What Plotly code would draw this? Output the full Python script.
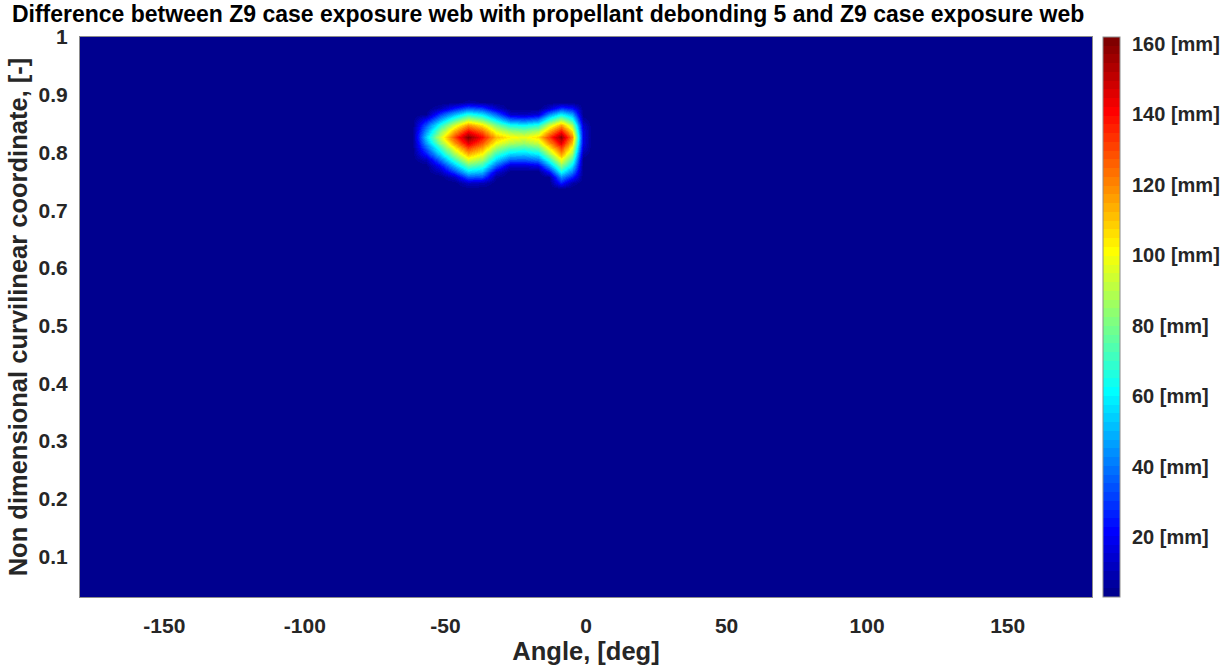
import plotly.graph_objects as go

# ---------------- data ----------------
TITLE = "Difference between Z9 case exposure web with propellant debonding 5 and Z9 case exposure web"
X_LABEL = "Angle, [deg]"
Y_LABEL = "Non dimensional curvilinear coordinate, [-]"

BACKGROUND_MM = 3.0          # value of the flat (dark blue) region
Z_MIN, Z_MAX = 3.0, 162.0     # colour limits of the colorbar

# blob columns [deg] and rows [-] where the debonding difference is non-zero
BLOB_ANGLE = [-57, -52, -47, -42, -37, -32, -27, -22, -17, -13, -9, -5, -1]
BLOB_COORD = [0.747, 0.757, 0.767, 0.777, 0.787, 0.797, 0.807, 0.817,
              0.827, 0.837, 0.847, 0.857, 0.867, 0.877, 0.887]
BLOB_MM = [
    [3, 3, 3, 12, 10, 3, 3, 3, 3, 3, 25, 8, 3],                    # 0.747
    [3, 3, 12, 35, 33, 6, 3, 3, 3, 5, 43, 26, 3],                  # 0.757
    [3, 10, 30, 55, 50, 15, 3, 3, 3, 22, 62, 41, 3],               # 0.767
    [3, 21, 49, 75, 68, 35, 13, 13, 17, 45, 81, 57, 3],            # 0.777
    [10, 38, 68, 95, 85, 54, 35, 34, 39, 66, 99, 72, 3],           # 0.787
    [25, 55, 86, 113, 100, 70, 55, 53, 59, 85, 116, 86, 8],        # 0.797
    [36, 69, 101, 130, 115, 86, 73, 70, 77, 103, 131, 98, 14],     # 0.807
    [46, 83, 116, 146, 128, 100, 89, 85, 93, 118, 145, 110, 17],   # 0.817
    [54, 94, 129, 160, 140, 112, 102, 98, 106, 132, 158, 120, 18], # 0.827
    [45, 81, 113, 140, 125, 97, 85, 81, 88, 114, 138, 105, 17],    # 0.837
    [35, 66, 94, 118, 105, 80, 64, 61, 67, 93, 115, 88, 14],       # 0.847
    [22, 49, 73, 93, 82, 60, 40, 37, 43, 69, 89, 68, 8],           # 0.857
    [5, 30, 49, 65, 57, 37, 13, 11, 15, 42, 60, 47, 3],            # 0.867
    [3, 9, 23, 35, 30, 13, 3, 3, 3, 13, 29, 23, 3],                # 0.877
    [3, 3, 3, 7, 5, 3, 3, 3, 3, 3, 3, 3, 3],                       # 0.887
]

# flat background columns / rows around the blob
BG_ANGLE_LEFT = [-180, -62]
BG_ANGLE_RIGHT = [2, 180]
BG_COORD_LOW = [0.03, 0.737]
BG_COORD_HIGH = [0.897, 1.0]

X_TICKS = [-150, -100, -50, 0, 50, 100, 150]
X_TICK_TEXT = ["-150", "-100", "-50", "0", "50", "100", "150"]
Y_TICKS = [0.1, 0.2, 0.3, 0.4, 0.5, 0.6, 0.7, 0.8, 0.9, 1.0]
Y_TICK_TEXT = ["0.1", "0.2", "0.3", "0.4", "0.5", "0.6", "0.7", "0.8", "0.9", "1"]
CB_TICKS = [20, 40, 60, 80, 100, 120, 140, 160]
CB_TICK_TEXT = ["20 [mm]", "40 [mm]", "60 [mm]", "80 [mm]",
                "100 [mm]", "120 [mm]", "140 [mm]", "160 [mm]"]

# ---------------- assemble the full grid ----------------
angles = BG_ANGLE_LEFT + BLOB_ANGLE + BG_ANGLE_RIGHT
coords = BG_COORD_LOW + BLOB_COORD + BG_COORD_HIGH
ncols = len(angles)
z = []
for _ in BG_COORD_LOW:
    z.append([BACKGROUND_MM] * ncols)
for r in BLOB_MM:
    z.append([BACKGROUND_MM] * len(BG_ANGLE_LEFT) + list(r) + [BACKGROUND_MM] * len(BG_ANGLE_RIGHT))
for _ in BG_COORD_HIGH:
    z.append([BACKGROUND_MM] * ncols)


# MATLAB "jet" colormap with 64 discrete levels
def matlab_jet(m=64):
    n = (m + 3) // 4
    u = [i / n for i in range(1, n + 1)] + [1.0] * (n - 1) + [i / n for i in range(n, 0, -1)]
    g0 = (n + 1) // 2 - (1 if m % 4 == 1 else 0)
    R, G, B = [0.0] * m, [0.0] * m, [0.0] * m
    for k, val in enumerate(u, start=1):
        gi = g0 + k
        ri = gi + n
        bi = gi - n
        if 1 <= gi <= m:
            G[gi - 1] = val
        if 1 <= ri <= m:
            R[ri - 1] = val
        if 1 <= bi <= m:
            B[bi - 1] = val
    return [(R[i], G[i], B[i]) for i in range(m)]


cols = matlab_jet(64)
colorscale = []
for i, (r, g, b) in enumerate(cols):
    c = f"rgb({round(r*255)},{round(g*255)},{round(b*255)})"
    colorscale.append([i / 64, c])
    colorscale.append([(i + 1) / 64, c])

FONT = "Liberation Sans, Arial, sans-serif"
TXT = "#262626"

fig = go.Figure(
    go.Heatmap(
        x=angles,
        y=coords,
        z=z,
        zsmooth="best",
        zmin=Z_MIN,
        zmax=Z_MAX,
        colorscale=colorscale,
        hoverinfo="skip",
        colorbar=dict(
            thickness=17,
            len=1.0,
            lenmode="fraction",
            y=0.5,
            yanchor="middle",
            x=1.0109,
            xanchor="left",
            xpad=0,
            ypad=0,
            outlinecolor="#8c8c8c",
            outlinewidth=1,
            tickmode="array",
            tickvals=CB_TICKS,
            ticktext=CB_TICK_TEXT,
            ticks="outside",
            ticklen=8,
            tickcolor="rgba(0,0,0,0)",
            tickfont=dict(family=FONT, size=20, color=TXT, weight="bold"),
        ),
    )
)

fig.update_layout(
    width=1227,
    height=668,
    margin=dict(l=80, r=135, t=37, b=71, autoexpand=False),
    paper_bgcolor="white",
    plot_bgcolor="white",
    font=dict(family=FONT, color=TXT),
    title=dict(
        text=TITLE,
        font=dict(family=FONT, size=23, color="black", weight="bold"),
        x=0.4625,
        xref="paper",
        xanchor="center",
        y=1 - 14 / 668,
        yref="container",
        yanchor="middle",
    ),
    xaxis=dict(
        range=[-180, 180],
        tickmode="array",
        tickvals=X_TICKS,
        ticktext=X_TICK_TEXT,
        ticks="",
        ticklabelstandoff=10,
        tickfont=dict(family=FONT, size=21, color=TXT, weight="bold"),
        title=dict(text=X_LABEL, font=dict(family=FONT, size=25.5, color=TXT, weight="bold"), standoff=5),
        showline=True,
        linecolor="#8c8c8c",
        linewidth=1,
        mirror=True,
        showgrid=False,
        zeroline=False,
    ),
    yaxis=dict(
        range=[0.03, 1.0],
        tickmode="array",
        tickvals=Y_TICKS,
        ticktext=Y_TICK_TEXT,
        ticks="",
        ticklabelstandoff=7,
        tickfont=dict(family=FONT, size=21, color=TXT, weight="bold"),
        title=dict(text=Y_LABEL, font=dict(family=FONT, size=25.5, color=TXT, weight="bold"), standoff=3),
        showline=True,
        linecolor="#8c8c8c",
        linewidth=1,
        mirror=True,
        showgrid=False,
        zeroline=False,
    ),
)

fig.write_html("out.html")
